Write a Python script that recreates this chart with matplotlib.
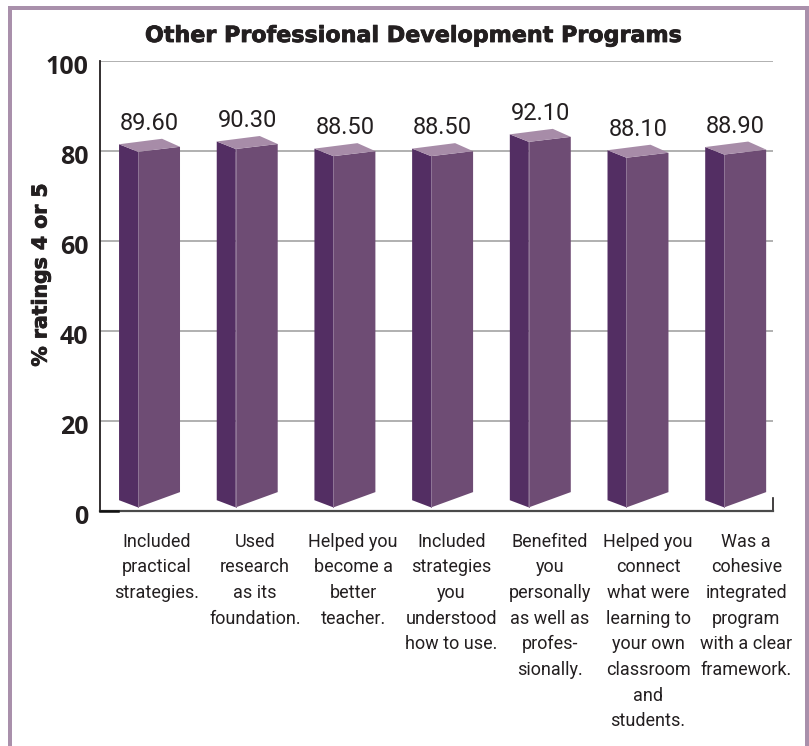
import matplotlib
matplotlib.use("Agg")
import matplotlib.pyplot as plt
import matplotlib.patheffects as pe
from matplotlib.patches import Polygon, Rectangle
from matplotlib.transforms import ScaledTranslation

title = "Other Professional Development Programs"
ylabel = "% ratings 4 or 5"
yticks = [0, 20, 40, 60, 80, 100]
values = [89.60, 90.30, 88.50, 88.50, 92.10, 88.10, 88.90]
categories = [
    "Included\npractical\nstrategies.",
    "Used\nresearch\nas its\nfoundation.",
    "Helped you\nbecome a\nbetter\nteacher.",
    "Included\nstrategies\nyou\nunderstood\nhow to use.",
    "Benefited\nyou\npersonally\nas well as\nprofes-\nsionally.",
    "Helped you\nconnect\nwhat were\nlearning to\nyour own\nclassroom\nand\nstudents.",
    "Was a\ncohesive\nintegrated\nprogram\nwith a clear\nframework.",
]

W, H = 809, 746
TXT = "#231f20"
FRAME = "#a990ab"

fig = plt.figure(figsize=(W / 100, H / 100), dpi=100, facecolor="white")

# mauve frame, open at the bottom edge of the image
bg = fig.add_axes([0, 0, 1, 1])
bg.set_xlim(0, W)
bg.set_ylim(H, 0)
bg.axis("off")
bg.add_patch(Rectangle((8, 6), 801, 3.5, fc=FRAME, ec="none"))
bg.add_patch(Rectangle((8, 6), 4, H, fc=FRAME, ec="none"))
bg.add_patch(Rectangle((805, 6), 4, H, fc=FRAME, ec="none"))

ax = fig.add_axes([100 / W, 1 - 511 / H, 673 / W, 450 / H])
ax.set_xlim(-0.507, 6.382)
ax.set_ylim(0, 100)
ax.patch.set_alpha(0)

for t in yticks[1:]:
    ax.axhline(t, color="#a3a3a3", lw=1.2, zorder=1)

# the 3d bars are drawn shorter than the axis, same as the original
scale = 0.882
for i, v in enumerate(values):
    top = v * scale + 0.8
    ax.add_patch(Polygon([(i - 0.312, 2.4), (i - 0.118, 0.8), (i - 0.118, top), (i - 0.312, top + 1.67)],
                         fc="#532e63", ec="none", zorder=3))
    ax.add_patch(Polygon([(i - 0.118, 0.8), (i + 0.312, 4.2), (i + 0.312, top + 1.11), (i - 0.118, top)],
                         fc="#6e4c74", ec="none", zorder=3))
    ax.add_patch(Polygon([(i - 0.118, top), (i + 0.312, top + 1.11), (i + 0.128, top + 2.89), (i - 0.312, top + 1.67)],
                         fc="#a78ca8", ec="none", zorder=3))
    ax.plot([i - 0.118, i - 0.118], [0.8, top], color="#8f7596", lw=0.7, zorder=4)
    ax.text(i, top + 3.7, f"{v:.2f}", ha="center", va="bottom", fontsize=17,
            family="Roboto", color=TXT, zorder=5)

for s in ["top", "right"]:
    ax.spines[s].set_visible(False)
ax.spines["left"].set_linewidth(1.3)
ax.spines["left"].set_color(TXT)
ax.spines["bottom"].set_linewidth(1.6)
ax.spines["bottom"].set_color("#4a4a4a")
# short end tick on the right, darker stub at the origin
ax.plot([1, 1], [0, 3], transform=ax.get_yaxis_transform(), color=TXT, lw=1.2, clip_on=False)
ax.plot([0, 0.027], [0, 0], transform=ax.get_yaxis_transform(), color="#111111", lw=1.8, clip_on=False, zorder=6)

ax.set_yticks(yticks)
ax.set_yticklabels([str(t) for t in yticks], fontsize=18, fontweight="bold", family="Open Sans", color=TXT)
ax.tick_params(axis="y", length=0, pad=8.5)
shift = ScaledTranslation(0, -3 / 100, fig.dpi_scale_trans)
for lab in ax.get_yticklabels():
    lab.set_transform(lab.get_transform() + shift)

# the labels sit a bit right of their bars and drift further right
ax.set_xticks([0.072 + 1.0061 * i for i in range(len(categories))])
ax.set_xticklabels(categories, fontsize=13, family="Roboto", color=TXT, linespacing=1.55, va="top")
ax.tick_params(axis="x", length=0, pad=15.5)

heavy = [pe.withStroke(linewidth=0.6, foreground=TXT)]
fig.text(414 / W, 1 - 36 / H, title, ha="center", va="center", fontsize=16, fontweight="bold",
         family="DejaVu Sans", color=TXT, path_effects=heavy)
fig.text(41 / W, 1 - 275 / H, ylabel, ha="center", va="center", rotation=90, fontsize=14.7,
         fontweight="bold", family="DejaVu Sans", color=TXT, path_effects=heavy)

fig.savefig("out.png", dpi=100, facecolor="white")
